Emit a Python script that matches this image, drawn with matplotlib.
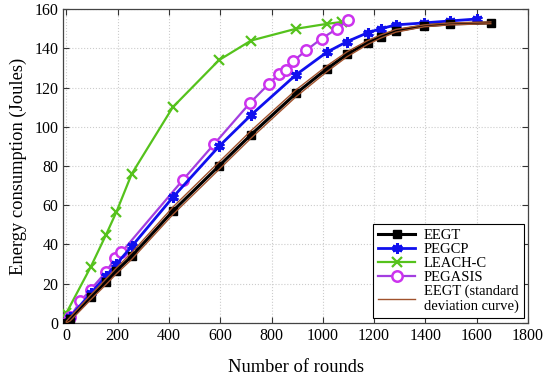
import matplotlib
matplotlib.use("Agg")
import matplotlib.pyplot as plt

plt.rcParams['font.family'] = ['Liberation Serif', 'DejaVu Serif']
plt.rcParams['mathtext.fontset'] = 'stix'

# EEGT
eegt_x = [0, 15, 95, 155, 195, 255, 415, 595, 720, 895, 1015, 1095, 1175, 1225, 1285, 1395, 1495, 1655]
eegt_y = [0, 2, 13, 21, 26.5, 34, 57, 80, 96, 117, 129.5, 137, 143, 146, 149, 151.5, 152.5, 153]
# EEGT standard deviation curves (upper / lower)
sd_up = [0.8, 3, 14.3, 22.5, 28, 35.8, 59, 82, 98, 118.8, 131, 138.3, 144, 146.8, 149.7, 152, 153, 153.5]
sd_lo = [0, 1, 11.8, 19.6, 25, 32.4, 55.2, 78.2, 94.2, 115.3, 128, 135.8, 142, 145.2, 148.3, 151, 152, 152.6]
# PEGCP
pegcp_x = [0, 15, 95, 155, 195, 255, 415, 595, 720, 895, 1015, 1095, 1175, 1225, 1285, 1395, 1495, 1600]
pegcp_y = [0, 3, 15, 24, 30, 39, 64, 90, 106, 126.5, 138, 143.5, 148, 150, 152, 153, 154, 155]
# LEACH-C
leach_x = [0, 95, 155, 195, 255, 415, 595, 720, 895, 1015, 1075]
leach_y = [5, 28.5, 45, 56.5, 76, 110, 134, 144, 150, 152.5, 153.5]
# PEGASIS
pegasis_x = [0, 15, 55, 95, 155, 190, 215, 455, 575, 715, 790, 830, 855, 885, 935, 995, 1055, 1100]
pegasis_y = [0, 3, 11, 17, 26, 33, 36, 73, 91, 112, 122, 127, 129, 133.5, 139, 145, 150, 154.5]

xticks = [0, 200, 400, 600, 800, 1000, 1200, 1400, 1600, 1800]
yticks = [0, 20, 40, 60, 80, 100, 120, 140, 160]

fig = plt.figure(figsize=(5.5, 3.83), dpi=100)
ax = fig.add_axes([0.115, 0.157, 0.845, 0.819])

ax.plot(eegt_x, eegt_y, color='black', lw=2.2, marker='s', ms=6, mfc='black', mec='black', label='EEGT', zorder=5)
ax.plot(pegcp_x, pegcp_y, color='#1010ee', lw=2.0, marker=(6, 2, 0), ms=7.5, mew=2.2, mec='#1010ee', label='PEGCP', zorder=4)
ax.plot(leach_x, leach_y, color='#55c21c', lw=1.6, marker='x', ms=7.5, mew=1.6, label='LEACH-C', zorder=3)
ax.plot(pegasis_x, pegasis_y, color='#a33ee0', lw=1.6, marker='o', ms=7.5, mfc='white', mec='#cc33ee', mew=1.8, label='PEGASIS', zorder=3.5)
ax.plot(eegt_x, sd_up, color='#a0522d', lw=1.0, label='EEGT (standard\ndeviation curve)', zorder=6)
ax.plot(eegt_x, sd_lo, color='#a0522d', lw=1.0, zorder=6)

ax.set_xlim(-12, 1800)
ax.set_ylim(0, 160)
ax.set_xticks(xticks)
ax.set_yticks(yticks)
ax.tick_params(direction='in', top=True, right=True, labelsize=11.5, length=4, colors='#333333', labelcolor='black')
ax.grid(True, color='#cccccc', linestyle=':', linewidth=0.8)
for s in ax.spines.values():
    s.set_color('#444444')
    s.set_linewidth(0.9)

ax.set_xlabel('Number of rounds', fontsize=13.3, labelpad=11)
ax.set_ylabel('Energy consumption (Joules)', fontsize=13.3, labelpad=5)

leg = ax.legend(loc='lower right', fontsize=10.5, frameon=True, fancybox=False,
                edgecolor='black', framealpha=1, handlelength=2.5, borderpad=0.35,
                labelspacing=0.05, handletextpad=0.6, borderaxespad=0.3)
leg.get_frame().set_linewidth(0.8)

fig.savefig('out.png', dpi=100)
